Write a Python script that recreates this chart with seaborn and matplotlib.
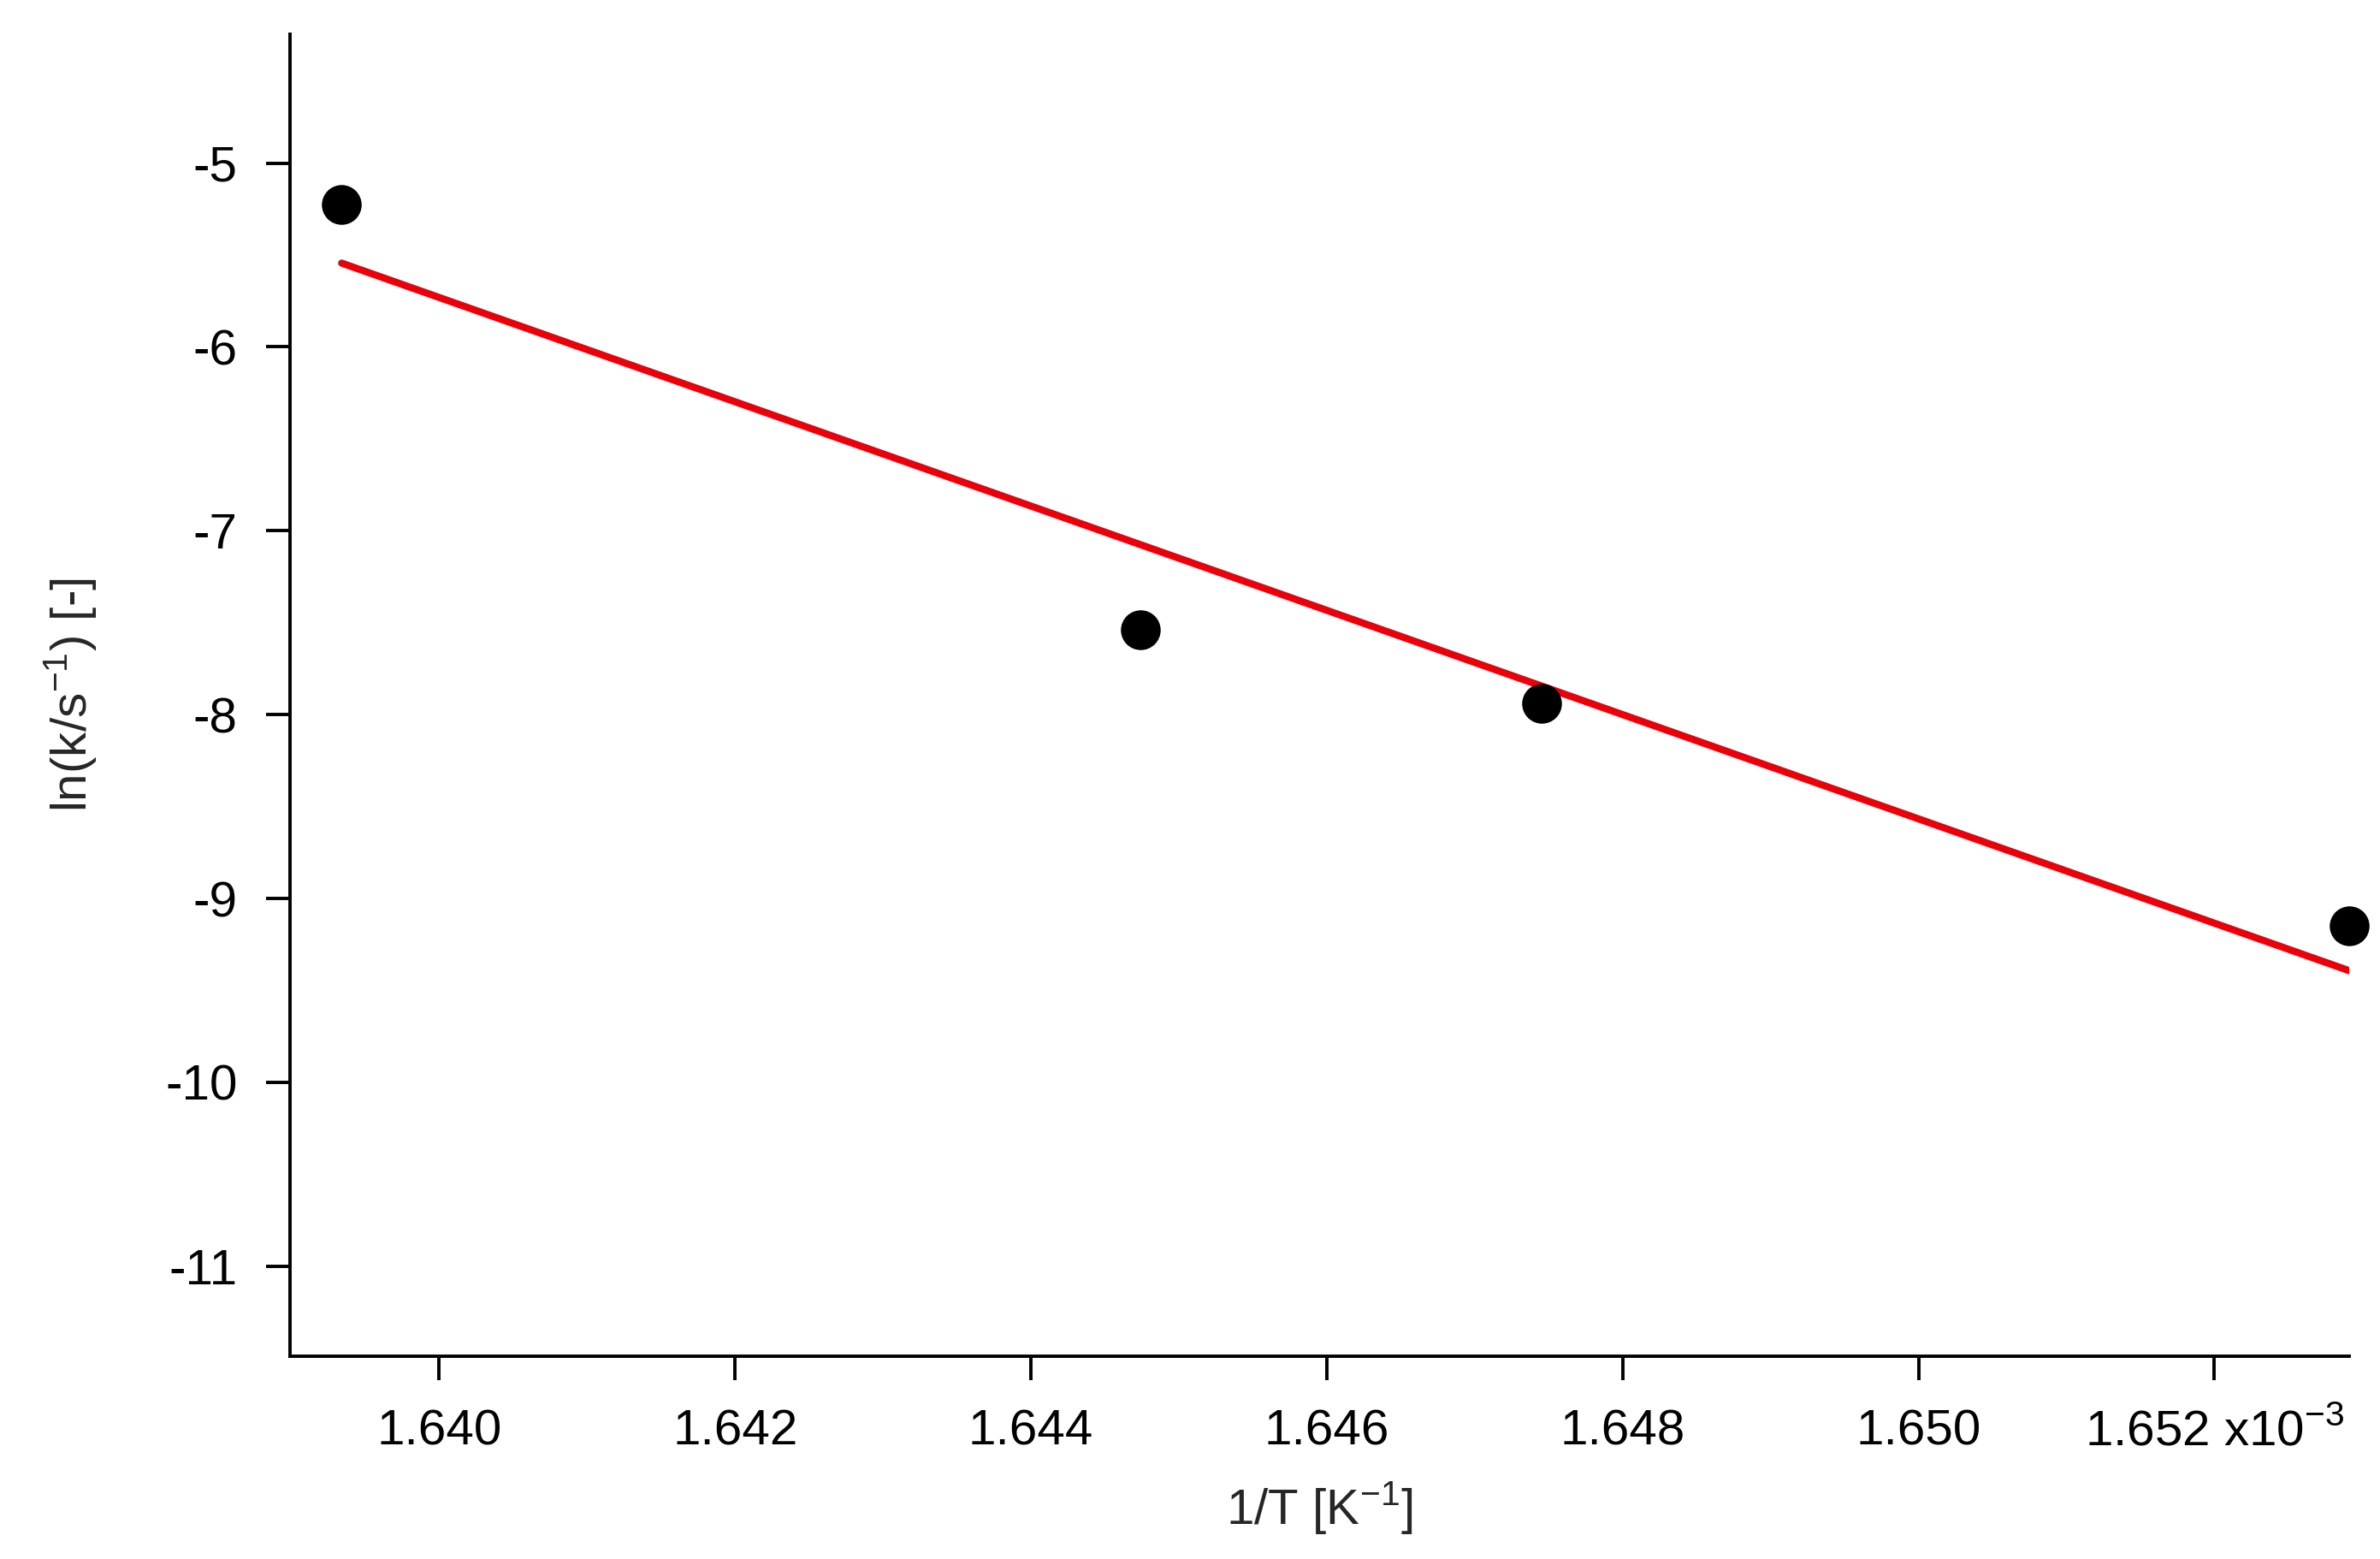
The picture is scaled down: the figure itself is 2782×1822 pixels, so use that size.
import numpy as np
import matplotlib
matplotlib.use("Agg")
import matplotlib.pyplot as plt
import seaborn as sns

inv_T = np.array([1.63934, 1.64474, 1.64745, 1.65291])  # x1e-3
ln_k = np.array([-5.226, -7.54, -7.94, -9.15])
xticks = [1.640, 1.642, 1.644, 1.646, 1.648, 1.650, 1.652]
xticklabels = ["1.640", "1.642", "1.644", "1.646", "1.648", "1.650", "1.652 x10$^{\\mathregular{-3}}$"]
yticks = [-5, -6, -7, -8, -9, -10, -11]

sns.set_style("ticks")
plt.rcParams['font.family'] = ['Liberation Sans', 'DejaVu Sans']
plt.rcParams['mathtext.fontset'] = 'custom'
plt.rcParams['mathtext.rm'] = 'Liberation Sans'
plt.rcParams['axes.unicode_minus'] = False

fig = plt.figure(figsize=(13.91, 9.11), dpi=200)
ax = fig.add_axes([0.1218, 0.130, 0.8652, 0.848])

m, b = np.polyfit(inv_T, ln_k, 1)
xl = np.array([inv_T.min(), inv_T.max()])
sns.lineplot(x=xl, y=m * xl + b, color="#e8000b", lw=3, ax=ax)
sns.scatterplot(x=inv_T, y=ln_k, color="black", s=240, edgecolor="black", zorder=5, ax=ax, clip_on=False)

ax.set_xlim(1.63899, 1.65291)
ax.set_ylim(-11.49, -4.30)
ax.set_xticks(xticks)
ax.set_xticklabels(xticklabels)
ax.set_yticks(yticks)
ax.set_yticklabels([str(v) for v in yticks])
ax.tick_params(direction="out", length=10, width=1.4, labelsize=21, pad=12, colors="black")
for s in ["top", "right"]:
    ax.spines[s].set_visible(False)
for s in ["left", "bottom"]:
    ax.spines[s].set_linewidth(1.4)
    ax.spines[s].set_color("black")
ax.set_xlabel("1/T [K$^{\\mathregular{-1}}$]", fontsize=21, labelpad=10)
ax.set_ylabel("ln(k/s$^{\\mathregular{-1}}$) [-]", fontsize=21, labelpad=28)
fig.savefig("out.png", dpi=200)
